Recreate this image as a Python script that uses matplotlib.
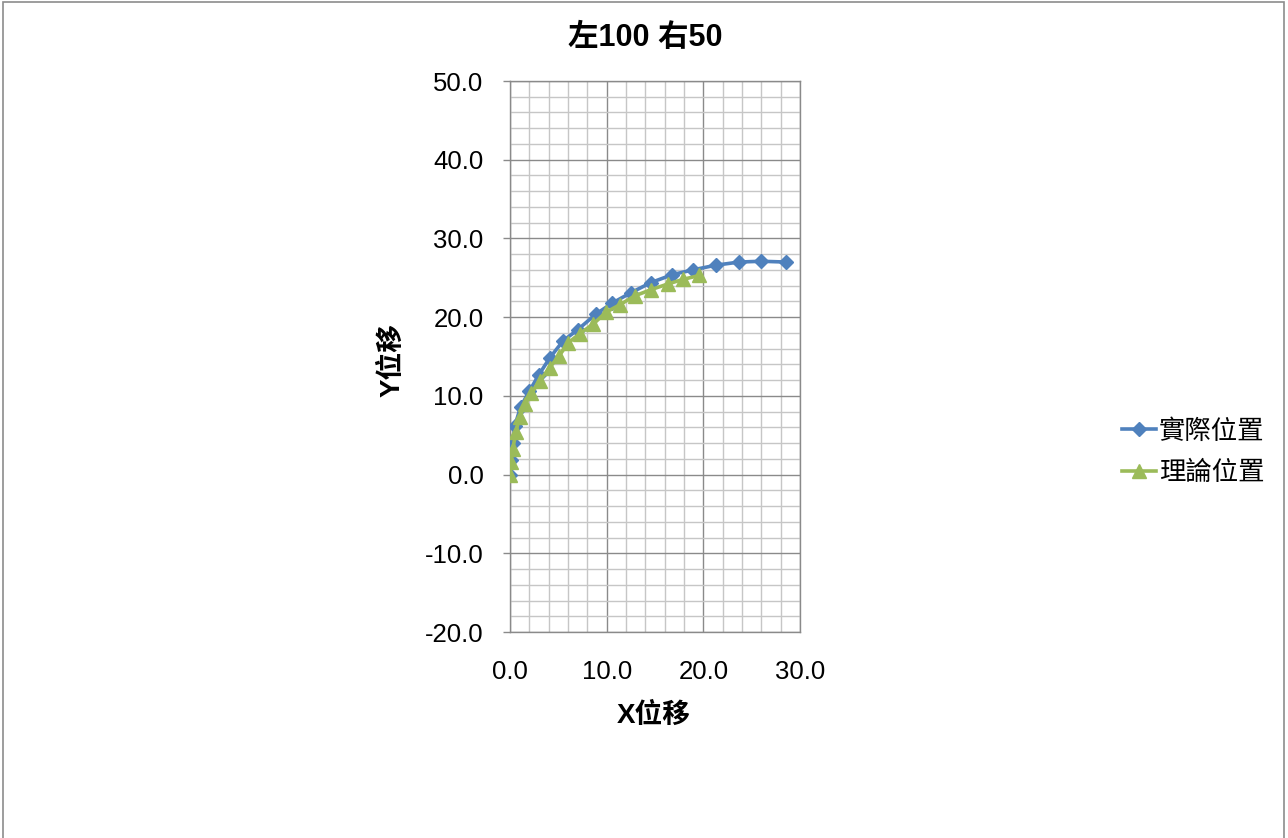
import matplotlib
matplotlib.use("Agg")
import matplotlib.pyplot as plt
from matplotlib.ticker import MultipleLocator, FormatStrFormatter
from matplotlib.patches import Rectangle

plt.rcParams['font.family'] = ['Liberation Sans', 'Noto Sans CJK TC', 'DejaVu Sans']

# 實際位置 (measured path)
actual_x = [0.0, 0.1, 0.3, 0.5, 1.1, 2.0, 3.0, 4.1, 5.5, 7.0,
            8.9, 10.6, 12.5, 14.6, 16.8, 18.9, 21.3, 23.7, 26.0, 28.5]
actual_y = [0.0, 1.8, 4.0, 6.2, 8.6, 10.6, 12.7, 14.8, 17.0, 18.4,
            20.4, 21.8, 23.1, 24.4, 25.4, 26.0, 26.6, 27.0, 27.1, 27.0]

# 理論位置 (theoretical path)
theory_x = [0.0, 0.1, 0.3, 0.6, 1.0, 1.6, 2.2, 3.1, 4.1, 5.1,
            6.0, 7.2, 8.6, 9.9, 11.4, 12.9, 14.6, 16.3, 17.9, 19.6]
theory_y = [0.0, 1.6, 3.3, 5.4, 7.3, 9.0, 10.3, 11.9, 13.6, 15.1,
            16.7, 17.9, 19.1, 20.6, 21.6, 22.7, 23.5, 24.2, 24.8, 25.3]

W, H = 1288, 838
fig = plt.figure(figsize=(W / 100, H / 100), dpi=100)
ax = fig.add_axes([510 / W, 1 - 632 / H, 290 / W, 551 / H])

# outer chart frame
fig.patches.append(Rectangle((0.002, -0.05), 0.995, 1.048, transform=fig.transFigure,
                             fill=False, edgecolor='#8c8c8c', linewidth=1.2))

ax.plot(actual_x, actual_y, color='#4F81BD', linewidth=2.6, marker='D',
        markersize=7.5, label='實際位置', zorder=3)
ax.plot(theory_x, theory_y, color='#9BBB59', linewidth=2.6, marker='^',
        markersize=10, label='理論位置', zorder=4)

ax.set_xlim(0, 30)
ax.set_ylim(-20, 50)
ax.xaxis.set_major_locator(MultipleLocator(10))
ax.xaxis.set_minor_locator(MultipleLocator(2))
ax.yaxis.set_major_locator(MultipleLocator(10))
ax.yaxis.set_minor_locator(MultipleLocator(2))
ax.xaxis.set_major_formatter(FormatStrFormatter('%.1f'))
ax.yaxis.set_major_formatter(FormatStrFormatter('%.1f'))

ax.grid(which='minor', color='#c6c6c6', linewidth=1.0)
ax.grid(which='major', color='#8a8a8a', linewidth=1.0)
ax.set_axisbelow(True)
for s in ax.spines.values():
    s.set_color('#8a8a8a')
    s.set_linewidth(1.0)

ax.tick_params(axis='x', which='both', length=0, pad=20, labelsize=18.5, colors='black')
ax.tick_params(axis='y', which='major', length=5, width=1.0, color='#8a8a8a',
               pad=14, labelsize=18.5, labelcolor='black')
ax.tick_params(axis='y', which='minor', length=0)

fig.text(645 / W, 1 - 38 / H, '左100 右50', fontsize=22, fontweight='bold',
         ha='center', va='center')
fig.text(654 / W, 1 - 716 / H, 'X位移', fontsize=20, fontweight='bold',
         ha='center', va='center')
fig.text(392 / W, 1 - 360 / H, 'Y位移', fontsize=20, fontweight='bold',
         ha='center', va='center', rotation=90)

ax.legend(loc='center left', bbox_to_anchor=(1122 / W, 1 - 452 / H),
          bbox_transform=fig.transFigure, frameon=False, fontsize=19,
          handlelength=1.3, handletextpad=0.1, labelspacing=0.65,
          borderpad=0, borderaxespad=0)

fig.savefig('out.png', dpi=100)
